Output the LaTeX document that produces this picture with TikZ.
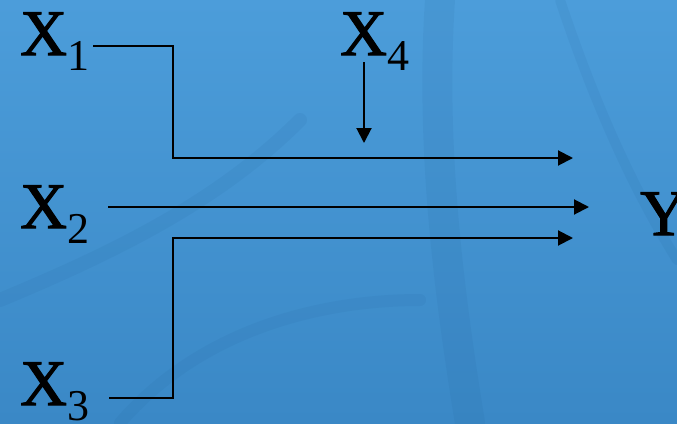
\documentclass[tikz,border=0pt]{standalone}
\usepackage{fontspec}
\setmainfont{Liberation Serif}
\newfontfamily\bigfont[FakeBold=1.6]{Liberation Serif}
\usetikzlibrary{arrows.meta}
\definecolor{bgtop}{HTML}{4C9DDA}
\definecolor{bgbot}{HTML}{3A88C6}
\definecolor{streak}{HTML}{1F5E96}
\newcommand\subx[1]{\raisebox{-15pt}{\normalfont\fontsize{44}{44}\selectfont #1}}
\begin{document}
\begin{tikzpicture}[x=1pt,y=-1pt,
  var/.style={inner sep=0pt, anchor=base west, font=\bigfont\fontsize{65}{65}\selectfont},
  conn/.style={line width=2pt},
  arr/.style={conn, -{Triangle[length=15pt,width=15pt]}},
  band/.style={streak, opacity=0.09, line width=#1, line cap=round}]
\useasboundingbox (0,0) rectangle (677,423);
\shade[top color=bgtop, bottom color=bgbot] (0,0) rectangle (677,423);
% background streaks
\draw[band=30pt] (440,0) .. controls (430,150) and (450,300) .. (470,423);
\draw[band=14pt] (0,300) .. controls (120,250) and (220,200) .. (300,120);
\draw[band=12pt] (120,423) .. controls (200,330) and (320,300) .. (420,300);
\draw[band=10pt] (560,0) .. controls (600,120) and (640,200) .. (677,260);
% labels
\node[var] (X1) at (20,55) {X\subx{1}};
\node[var] (X4) at (340,55) {X\subx{4}};
\node[var] (X2) at (20,228) {X\subx{2}};
\node[var] (X3) at (20,405) {X\subx{3}};
\node[var] (Y)  at (640,235) {Y};
% connector points
\coordinate (s1) at (93,46);
\coordinate (c1) at (173,158);
\coordinate (e1) at (573,158);
\coordinate (s4) at (364,62);
\coordinate (e4) at (364,143);
\coordinate (s2) at (108,207);
\coordinate (e2) at (589,207);
\coordinate (s3) at (109,398);
\coordinate (c3) at (173,238);
\coordinate (e3) at (573,238);
% connectors
\draw[arr] (s1) -| (c1) -- (e1);
\draw[arr] (s4) -- (e4);
\draw[arr] (s2) -- (e2);
\draw[arr] (s3) -| (c3) -- (e3);
\end{tikzpicture}
\end{document}
